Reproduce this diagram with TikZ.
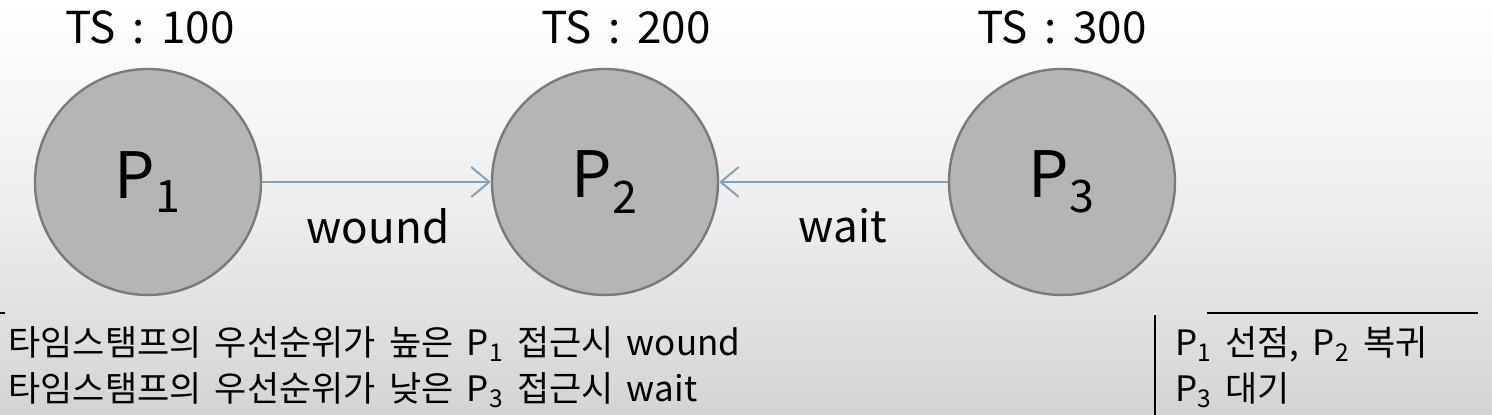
\documentclass[tikz,border=0pt]{standalone}
\usepackage{fontspec}
\setmainfont[WordSpace=1.7]{Noto Sans CJK KR}
\usetikzlibrary{arrows.meta}
\definecolor{fondhaut}{HTML}{FFFFFF}
\definecolor{fondbas}{HTML}{D4D4D4}
\definecolor{disque}{HTML}{B5B5B5}
\definecolor{bord}{HTML}{7A7A7A}
\definecolor{fleche}{HTML}{7FA3BC}
\begin{document}
\begin{tikzpicture}[x=0.5bp, y=-0.5bp]
\tikzset{proc/.style={draw=bord, fill=disque, circle, line width=1.2bp, minimum size=113bp, inner sep=0pt},
  ts/.style={font=\fontsize{22bp}{24bp}\selectfont},
  etiq/.style={font=\fontsize{22bp}{24bp}\selectfont},
  ligne/.style={font=\fontsize{17.5bp}{20bp}\selectfont, anchor=base west, inner sep=0pt},
  lien/.style={draw=fleche, line width=1bp, -{Straight Barb[length=9bp, width=15bp]}}}
\shade[top color=fondhaut, bottom color=fondbas, middle color=fondhaut!60!fondbas] (0,0) rectangle (1492,415);
\useasboundingbox (0,0) rectangle (1492,415);
\node[proc] (P1) at (148,182) {};
\node[proc] (P2) at (605,182) {};
\node[proc] (P3) at (1062,182) {};
\node[font=\fontsize{32bp}{36bp}\selectfont] at (P1) {P$_{\mathrm{1}}$};
\node[font=\fontsize{32bp}{36bp}\selectfont] at (P2) {P$_{\mathrm{2}}$};
\node[font=\fontsize{32bp}{36bp}\selectfont] at (P3) {P$_{\mathrm{3}}$};
\node[ts] (T1) at (150,27) {TS : 100};
\node[ts] (T2) at (626,27) {TS : 200};
\node[ts] (T3) at (1062,27) {TS : 300};
\draw[lien] (P1) -- (P2);
\draw[lien] (P3) -- (P2);
\node[etiq] (W1) at (378,226) {wound};
\node[etiq] (W2) at (843,226) {wait};
\draw[line width=0.8bp] (0,313) -- (5,313);
\node[ligne] (L1) at (8,356) {타임스탬프의 우선순위가 높은 P\textsubscript{1} 접근시 wound};
\node[ligne] (L2) at (8,402) {타임스탬프의 우선순위가 낮은 P\textsubscript{3} 접근시 wait};
\draw[line width=0.8bp] (1155,315) -- (1155,415);
\draw[line width=0.8bp] (1207,313) -- (1478,313);
\node[ligne] (R1) at (1175,356) {P\textsubscript{1} 선점, P\textsubscript{2} 복귀};
\node[ligne] (R2) at (1175,402) {P\textsubscript{3} 대기};
\end{tikzpicture}
\end{document}
